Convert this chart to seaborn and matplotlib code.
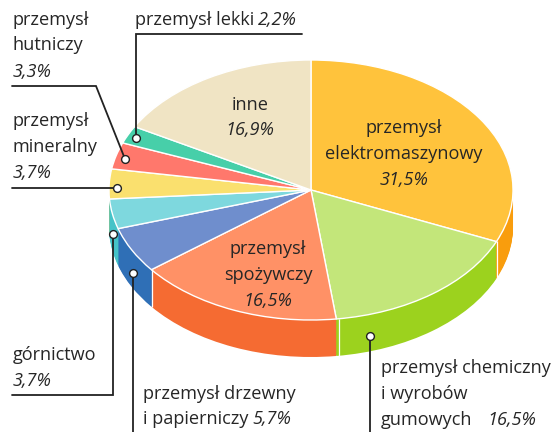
import matplotlib
matplotlib.use("Agg")
import matplotlib.pyplot as plt
import seaborn as sns

categories = ["przemysł elektromaszynowy", "przemysł chemiczny i wyrobów gumowych",
              "przemysł spożywczy", "przemysł drzewny i papierniczy", "górnictwo",
              "przemysł mineralny", "przemysł hutniczy", "przemysł lekki", "inne"]
values = [31.5, 16.5, 16.5, 5.7, 3.7, 3.7, 3.3, 2.2, 16.9]
top_colors = ["#FFC33C", "#C3E67A", "#FF9166", "#6F8ECD", "#7ED8DE",
              "#FAE06E", "#FF786C", "#47CFA9", "#F0E4C4"]
side_colors = ["#F99D0D", "#9CD21E", "#F56B32", "#2F6FB6", "#45C3C8",
               "#F0C93F", "#F0574A", "#2FB88F", "#D9CBA5"]

sns.set_theme(style="white")
plt.rcParams["font.family"] = ["Open Sans", "DejaVu Sans"]
W, H = 554, 432
CX, CY, RX, RY, DEPTH = 311, 190, 202, 130, 37
INK = "#262626"
FS = 13.1

fig = plt.figure(figsize=(W / 100, H / 100), dpi=100)
ax = fig.add_axes([0, 0, 1, 1])

# extruded rim: the same pie repeated downwards, then the top face
for d in range(DEPTH, 0, -1):
    ax.pie(values, colors=sns.color_palette(side_colors), startangle=90, counterclock=False,
           center=(0, -d / RY), radius=1, wedgeprops=dict(linewidth=0))
ax.pie(values, colors=sns.color_palette(top_colors), startangle=90, counterclock=False,
       center=(0, 0), radius=1, wedgeprops=dict(linewidth=1.0, edgecolor="white"))
ax.set_aspect("auto")
ax.set_xlim(-CX / RX, (W - CX) / RX)
ax.set_ylim((CY - H) / RY, CY / RY)
ax.axis("off")

# overlay in pixel coordinates for labels and leader lines
ov = fig.add_axes([0, 0, 1, 1], facecolor="none")
ov.set_xlim(0, W)
ov.set_ylim(H, 0)
ov.axis("off")

def label(x, y, parts, ha="left"):
    """parts: list of (string, italic) pieces on one baseline."""
    r = fig.canvas.get_renderer()
    made = []
    cur = x
    for s, it in parts:
        t = ov.text(cur, y, s, fontsize=FS, color=INK, va="baseline", ha="left",
                    style="italic" if it else "normal")
        made.append(t)
        inv = ov.transData.inverted()
        bb = t.get_window_extent(r)
        cur = inv.transform((bb.x1, 0))[0] + 4
    if ha == "center":
        total = cur - 4 - x
        for t in made:
            px, py = t.get_position()
            t.set_position((px - total / 2, py))

label(135, 25, [("przemysł lekki", False), ("2,2%", True)])
label(13, 25, [("przemysł", False)])
label(13, 50, [("hutniczy", False)])
label(13, 77, [("3,3%", True)])
label(13, 126, [("przemysł", False)])
label(13, 152, [("mineralny", False)])
label(13, 178, [("3,7%", True)])
label(13, 360, [("górnictwo", False)])
label(13, 386, [("3,7%", True)])
label(143, 399, [("przemysł drzewny", False)])
label(143, 424, [("i papierniczy", False), ("5,7%", True)])
label(381, 373, [("przemysł chemiczny", False)])
label(381, 399, [("i wyrobów", False)])
label(381, 425, [("gumowych", False)])
label(487, 425, [("16,5%", True)])
label(250, 110, [("inne", False)], ha="center")
label(250, 135, [("16,9%", True)], ha="center")
label(404, 133, [("przemysł", False)], ha="center")
label(404, 159, [("elektromaszynowy", False)], ha="center")
label(404, 185, [("31,5%", True)], ha="center")
label(268, 254, [("przemysł", False)], ha="center")
label(268, 280, [("spożywczy", False)], ha="center")
label(268, 306, [("16,5%", True)], ha="center")

# white seams on the visible rim
for x, y in [(497, 241), (339, 319), (152, 270)]:
    ov.plot([x, x], [y, y + DEPTH], color="white", lw=0.9, solid_capstyle="butt")

leaders = [
    ([302, 136, 136], [34, 34, 138]),
    ([12, 96, 125], [86, 86, 159]),
    ([12, 117], [188, 188]),
    ([12, 113, 113], [395, 395, 234]),
    ([133, 133], [432, 273]),
    ([370, 370], [432, 336]),
]
for xs, ys in leaders:
    ov.plot(xs, ys, color="#222222", lw=1.3, solid_joinstyle="miter")
    ov.plot(xs[-1], ys[-1], "o", ms=5.6, mfc="white", mec="#222222", mew=1.0)

fig.savefig("out.png", dpi=100)
